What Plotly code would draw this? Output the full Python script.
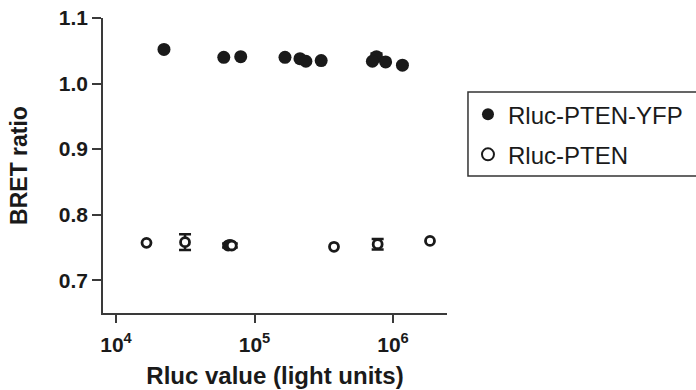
import plotly.graph_objects as go

# Rluc-PTEN-YFP (filled markers)
yfp_rluc = [22200, 60000, 79500, 166000, 213000, 235000, 303000, 710000, 760000, 885000, 1170000]
yfp_bret = [1.052, 1.040, 1.041, 1.040, 1.038, 1.034, 1.035, 1.034, 1.041, 1.033, 1.028]
yfp_err = [None, None, None, None, None, None, None, None, 0.005, None, None]

# Rluc-PTEN (open markers)
pten_rluc = [16600, 31500, 64500, 66500, 68500, 375000, 775000, 1850000]
pten_bret = [0.757, 0.758, 0.753, 0.754, 0.753, 0.751, 0.755, 0.760]
pten_err = [None, 0.012, 0.003, 0.003, 0.003, None, 0.008, None]

# Axis ticks
x_tickvals = [1e4, 1e5, 1e6]
x_ticktext = ["10<sup>4</sup>", "10<sup>5</sup>", "10<sup>6</sup>"]
y_tickvals = [0.7, 0.8, 0.9, 1.0, 1.1]
y_ticktext = ["0.7", "0.8", "0.9", "1.0", "1.1"]

FONT = "Liberation Sans, Arial, Helvetica, sans-serif"
INK = "#1a1a1a"
AXIS = "#3a3a3a"

# Legend placement (paper coordinates); the frame runs off the right edge
LEG_X, LEG_TOP, LEG_BOTTOM, LEG_RIGHT = 1.061, 0.749, 0.464, 1.75


def split(xs, ys, es):
    """Separate points that carry an error bar from those that don't."""
    plain = [(x, y) for x, y, e in zip(xs, ys, es) if e is None]
    barred = [(x, y, e) for x, y, e in zip(xs, ys, es) if e is not None]
    return plain, barred


fig = go.Figure()

series = [
    ("Rluc-PTEN-YFP", yfp_rluc, yfp_bret, yfp_err,
     dict(symbol="circle", size=13, color=INK, line=dict(width=0))),
    ("Rluc-PTEN", pten_rluc, pten_bret, pten_err,
     dict(symbol="circle", size=9, color="white", line=dict(width=2.8, color=INK))),
]

for i, (name, xs, ys, es, marker) in enumerate(series):
    plain, barred = split(xs, ys, es)
    fig.add_trace(go.Scatter(
        x=[p[0] for p in barred], y=[p[1] for p in barred],
        mode="markers", marker=marker, showlegend=False, hoverinfo="skip",
        error_y=dict(type="data", array=[p[2] for p in barred], visible=True,
                     color=INK, thickness=2.5, width=6),
    ))
    fig.add_trace(go.Scatter(
        x=[p[0] for p in plain], y=[p[1] for p in plain],
        mode="markers", marker=marker, name=name,
        legendgroup=f"g{i}",
    ))

fig.add_shape(
    type="rect", xref="paper", yref="paper",
    x0=LEG_X, x1=LEG_RIGHT, y0=LEG_BOTTOM, y1=LEG_TOP,
    line=dict(color="#333333", width=1.5), fillcolor="rgba(0,0,0,0)",
    layer="above",
)

fig.update_layout(
    width=696, height=390,
    margin=dict(l=103, r=249, t=18, b=77, autoexpand=False),
    paper_bgcolor="white", plot_bgcolor="white",
    font=dict(family=FONT, color=INK),
    showlegend=True,
    legend=dict(
        x=LEG_X, y=LEG_TOP, xanchor="left", yanchor="top",
        borderwidth=0, bgcolor="rgba(0,0,0,0)",
        font=dict(family=FONT, size=24, color=INK),
        tracegroupgap=6, traceorder="grouped",
        itemsizing="constant",
    ),
)

fig.update_xaxes(
    type="log", range=[3.906, 6.39],
    tickvals=x_tickvals, ticktext=x_ticktext,
    showgrid=False, zeroline=False,
    showline=True, linecolor=AXIS, linewidth=1.5,
    ticks="outside", ticklen=8, tickwidth=1.5, tickcolor=AXIS,
    ticklabelstandoff=4,
    tickfont=dict(family=FONT, size=21, weight="bold", color=INK),
    title=dict(text="Rluc value (light units)", standoff=12,
               font=dict(family=FONT, size=24, weight="bold", color=INK)),
)

fig.update_yaxes(
    range=[0.65, 1.1],
    tickvals=y_tickvals, ticktext=y_ticktext,
    showgrid=False, zeroline=False,
    showline=True, linecolor=AXIS, linewidth=1.5,
    ticks="outside", ticklen=9, tickwidth=1.5, tickcolor=AXIS,
    tickfont=dict(family=FONT, size=21, weight="bold", color=INK),
    title=dict(text="BRET ratio", standoff=25,
               font=dict(family=FONT, size=23, weight="bold", color=INK)),
)

fig.write_html("out.html")
